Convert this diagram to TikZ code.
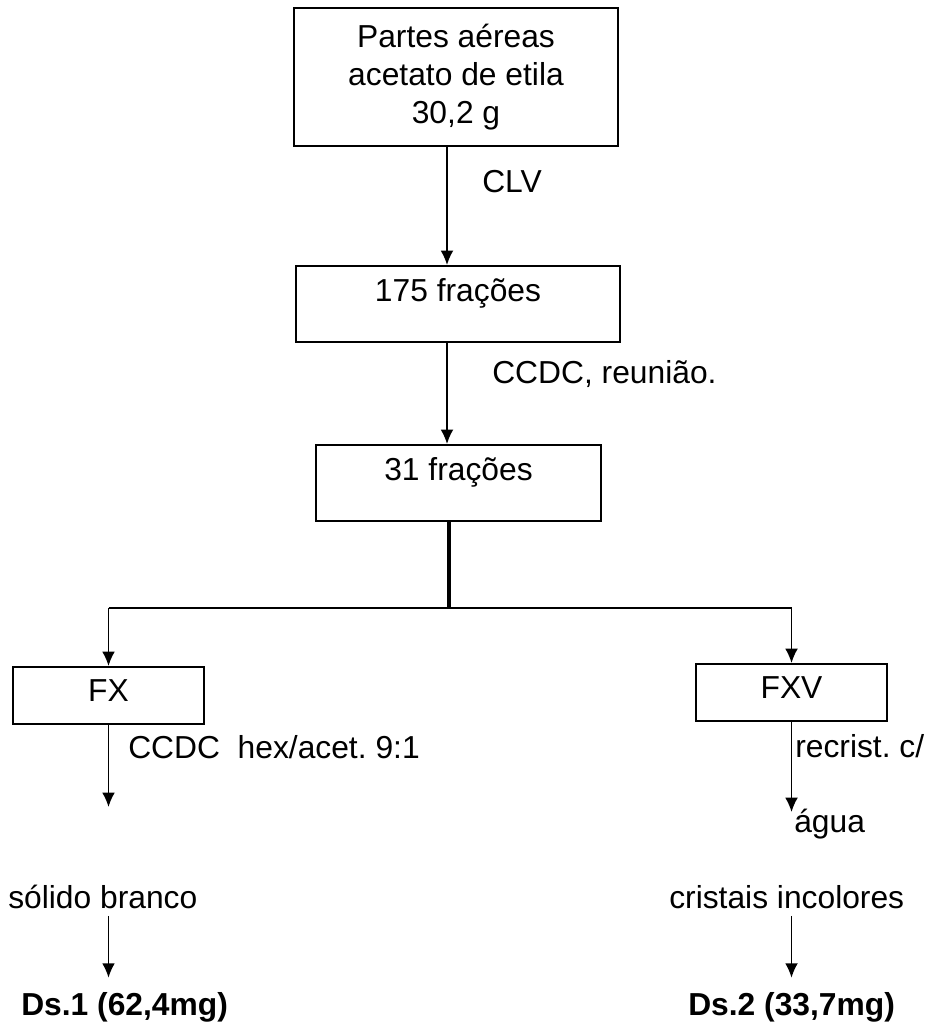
\documentclass[tikz,border=0pt]{standalone}
\usepackage{fontspec}
\setmainfont{Liberation Sans}
\usepackage{tikz}
\usetikzlibrary{arrows.meta, calc, positioning}
\frenchspacing
\newcommand{\lineColor}{black}
\tikzset{
    box/.style = {draw=\lineColor, line width=1.4pt, inner sep=0pt, align=center},
    boxTop/.style = {box, text height=0.9cm, text depth=1cm},
    boxFrac/.style = {box, text height=0.87cm, text depth=0.55cm, minimum width=4.78cm},
    note/.style = {inner sep=0pt, anchor=base west},
    result/.style = {note, font=\fontsize{22.6}{27}\selectfont\bfseries},
    flow/.style = {draw=\lineColor, line width=1.1pt, -{Latex[length=0.36cm,width=0.32cm]}},
    gap/.style = {shorten <=0.18cm, shorten >=0.35cm}
}

\begin{document}
\begin{tikzpicture}[x=0.025cm, y=-0.025cm, font=\fontsize{22.6}{27}\selectfont]
    \useasboundingbox (0,0) rectangle (926,1029);

    \coordinate (Spine) at (447,0);
    \coordinate (Split) at (449,608);
    \coordinate (FXEnd) at (108.5,807);
    \coordinate (FXVEnd) at (791.5,812);

    \node[box, minimum width=8.1cm, minimum height=3.45cm] (Partes) at (456,77) {Partes aéreas\\acetato de etila\\30,2 g};
    \node[boxTop, minimum width=8.1cm, anchor=north] (F175) at (458,265) {175 frações};
    \node[boxTop, minimum width=7.12cm, anchor=north] (F31) at (458.5,444) {31 frações};
    \node[boxFrac, anchor=north] (FX) at (108.5,666) {FX};
    \node[boxFrac, anchor=north] (FXV) at (791.5,663) {FXV};

    \node[note] (Clv) at (482,193) {CLV};
    \node[note] (Reuniao) at (492,383) {CCDC, reunião.};
    \node[note] (Hex) at (128,758) {CCDC\ \ hex/acet. 9:1};
    \node[note] (Recrist) at (795,757) {recrist. c/};
    \node[note] (Agua) at (794,832) {água};
    \node[note] (Solido) at (8,908) {sólido branco};
    \node[note] (Cristais) at (669,908) {cristais incolores};
    \node[result] (Ds1) at (21,1015) {Ds.1 (62,4mg)};
    \node[result] (Ds2) at (688,1015) {Ds.2 (33,7mg)};

    \draw[flow] (Partes.south -| Spine) -- (F175.north -| Spine);
    \draw[flow] (F175.south -| Spine) -- (F31.north -| Spine);
    \draw[line width=2.3pt] (F31.south -| Split) -- (Split);
    \draw[line width=1.6pt] (FX.north |- Split) -- (FXV.north |- Split);
    \draw[flow] (FX.north |- Split) -- (FX.north);
    \draw[flow] (FXV.north |- Split) -- (FXV.north);
    \draw[flow] (FX.south) -- (FXEnd);
    \draw[flow] (FXV.south) -- (FXVEnd);
    \draw[flow, gap] (Solido.south -| FX.south) -- (Ds1.north -| FX.south);
    \draw[flow, gap] (Cristais.south -| FXV.south) -- (Ds2.north -| FXV.south);
\end{tikzpicture}
\end{document}
